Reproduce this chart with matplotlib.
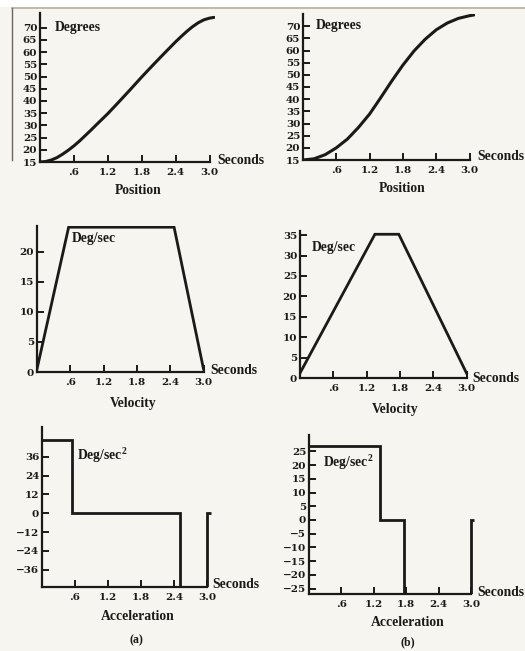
import matplotlib
matplotlib.use("Agg")
import matplotlib.pyplot as plt
from matplotlib.lines import Line2D
from matplotlib.patches import Rectangle

# ---------------- data ----------------
pos_a_t = [0, 0.1, 0.2, 0.3, 0.4, 0.5, 0.6, 0.7, 0.8, 0.9, 1.0, 1.2, 1.4, 1.6, 1.8,
           2.0, 2.2, 2.4, 2.5, 2.6, 2.7, 2.8, 2.9, 3.0, 3.08]
pos_a_deg = [15, 15.2, 15.8, 16.8, 18.2, 19.8, 21.6, 23.6, 25.8, 28.0, 30.3, 34.8, 39.7,
             44.7, 49.8, 54.7, 59.5, 64.2, 66.4, 68.5, 70.4, 72.0, 73.2, 73.9, 74.2]

pos_b_t = [0, 0.2, 0.4, 0.6, 0.8, 1.0, 1.2, 1.4, 1.6, 1.8, 2.0, 2.2, 2.4, 2.6, 2.8, 3.0, 3.08]
pos_b_deg = [15, 15.5, 17.2, 20.0, 23.6, 28.4, 33.9, 40.6, 47.5, 54.0, 59.8, 64.6, 68.5,
             71.3, 73.2, 74.3, 74.6]

vel_a_t = [0, 0.57, 2.47, 3.0]
vel_a_val = [0.5, 24.1, 24.1, 0.5]

vel_b_t = [0, 1.35, 1.78, 3.0]
vel_b_val = [1.2, 35.2, 35.2, 1.2]

acc_a_edges = [0, 0.55, 2.5, 3.0, 3.07]
acc_a_val = [47, 0, -47, 0]

acc_b_edges = [0, 1.32, 1.75, 3.0, 3.06]
acc_b_val = [27, 0, -27, 0]

x_ticks = [0.6, 1.2, 1.8, 2.4, 3.0]
x_tick_labels = ['.6', '1.2', '1.8', '2.4', '3.0']
pos_yticks = [15, 20, 25, 30, 35, 40, 45, 50, 55, 60, 65, 70]
vel_a_yticks = [0, 5, 10, 15, 20]
vel_b_yticks = [0, 5, 10, 15, 20, 25, 30, 35]
acc_a_yticks = [36, 24, 12, 0, -12, -24, -36]
acc_b_yticks = [25, 20, 15, 10, 5, 0, -5, -10, -15, -20, -25]

# ---------------- figure ----------------
W, H = 525, 651
DPI = 100
paper = '#f7f5ef'
ink = '#1c1a18'
fig = plt.figure(figsize=(W / DPI, H / DPI), dpi=DPI, facecolor=paper)
plt.rcParams['font.family'] = ['Liberation Serif', 'DejaVu Serif']
plt.rcParams['mathtext.fontset'] = 'custom'
plt.rcParams['mathtext.rm'] = 'Liberation Serif'
plt.rcParams['mathtext.bf'] = 'Liberation Serif:bold'

# scan artifacts: white strip on top and page edges
fig.patches.append(Rectangle((0, 1 - 7 / H), 1, 7 / H, transform=fig.transFigure,
                             facecolor='white', edgecolor='none', zorder=0))
fig.add_artist(Line2D([12 / W, 1], [1 - 7.5 / H, 1 - 7.5 / H], color='#b9ad9c', lw=1.2))
fig.add_artist(Line2D([11.5 / W, 11.5 / W], [1 - 8 / H, 1 - 160 / H], color='#6d665e', lw=1.0))

TICK_FS = 7.5
LAB_FS = 9.8
TICK_FONT = ['DejaVu Serif']


def make_axes(x0, x_per_s, xmax, ybot, ytop, ylim):
    x1 = x0 + x_per_s * xmax
    ax = fig.add_axes([x0 / W, 1 - ybot / H, (x1 - x0) / W, (ybot - ytop) / H])
    ax.set_facecolor('none')
    ax.set_xlim(0, xmax)
    ax.set_ylim(*ylim)
    for s in ('top', 'right'):
        ax.spines[s].set_visible(False)
    ax.spines['left'].set_linewidth(1.6)
    ax.spines['bottom'].set_linewidth(1.6)
    ax.spines['left'].set_color(ink)
    ax.spines['bottom'].set_color(ink)
    ax.spines['bottom'].set_bounds(0, 3.0)
    ax.set_xticks(x_ticks)
    ax.set_xticklabels(x_tick_labels, family=TICK_FONT, fontweight='bold')
    ax.tick_params(axis='both', direction='in', length=5, width=1.4, color=ink,
                   labelsize=TICK_FS, labelcolor=ink)
    ax.tick_params(axis='x', pad=4)
    ax.tick_params(axis='y', pad=2)
    return ax


def ftext(x, y, s, ha='left', va='center', size=LAB_FS):
    fig.text(x / W, 1 - y / H, s, ha=ha, va=va, fontsize=size, color=ink,
             fontweight='bold')


def fmt(v):
    return ('\u2212' + str(-v)) if v < 0 else str(v)


def yt(ax, ticks):
    ax.set_yticks(ticks)
    ax.set_yticklabels([fmt(v) for v in ticks], family=TICK_FONT, fontweight='bold')


# ---- Position (a)
ax = make_axes(40, 56.5, 3.1, 162, 13, (15, 76))
ax.plot(pos_a_t, pos_a_deg, color=ink, lw=2.2, solid_capstyle='round')
yt(ax, pos_yticks)
ftext(55, 28, 'Degrees')
ftext(217, 161, 'Seconds')
ftext(138, 191, 'Position', ha='center')

# ---- Position (b)
ax = make_axes(303, 55.5, 3.1, 160, 14, (15, 75))
ax.plot(pos_b_t, pos_b_deg, color=ink, lw=2.2, solid_capstyle='round')
yt(ax, pos_yticks)
ftext(316, 25, 'Degrees')
ftext(477, 157, 'Seconds')
ftext(402, 189, 'Position', ha='center')

# ---- Velocity (a)
ax = make_axes(37, 55.5, 3.1, 372, 226, (0, 24.3))
ax.plot(vel_a_t, vel_a_val, color=ink, lw=2.0, solid_joinstyle='miter')
yt(ax, vel_a_yticks)
ftext(72, 239, 'Deg/sec')
ftext(210, 370, 'Seconds')
ftext(133, 403, 'Velocity', ha='center')

# ---- Velocity (b)
ax = make_axes(300, 55.5, 3.1, 378, 231, (0, 36))
ax.plot(vel_b_t, vel_b_val, color=ink, lw=2.0, solid_joinstyle='miter')
yt(ax, vel_b_yticks)
ftext(312, 248, 'Deg/sec')
ftext(472, 378, 'Seconds')
ftext(395, 410, 'Velocity', ha='center')

# ---- Acceleration (a)
ax = make_axes(42, 55, 3.1, 587, 427, (-47, 55))
ax.stairs(acc_a_val, acc_a_edges, baseline=None, color=ink, lw=2.0)
yt(ax, acc_a_yticks)
ftext(77, 455, 'Deg/sec$^{\\mathbf{2}}$')
ftext(212, 584, 'Seconds')
ftext(138, 617, 'Acceleration', ha='center')
ftext(136, 640, '(a)', ha='center', size=8.5)

# ---- Acceleration (b)
ax = make_axes(309, 54, 3.1, 594, 435, (-27, 31))
ax.stairs(acc_b_val, acc_b_edges, baseline=None, color=ink, lw=2.0)
yt(ax, acc_b_yticks)
ftext(323, 462, 'Deg/sec$^{\\mathbf{2}}$')
ftext(477, 592, 'Seconds')
ftext(408, 622, 'Acceleration', ha='center')
ftext(408, 642, '(b)', ha='center', size=8.5)

fig.savefig('out.png', dpi=DPI, facecolor=paper)
